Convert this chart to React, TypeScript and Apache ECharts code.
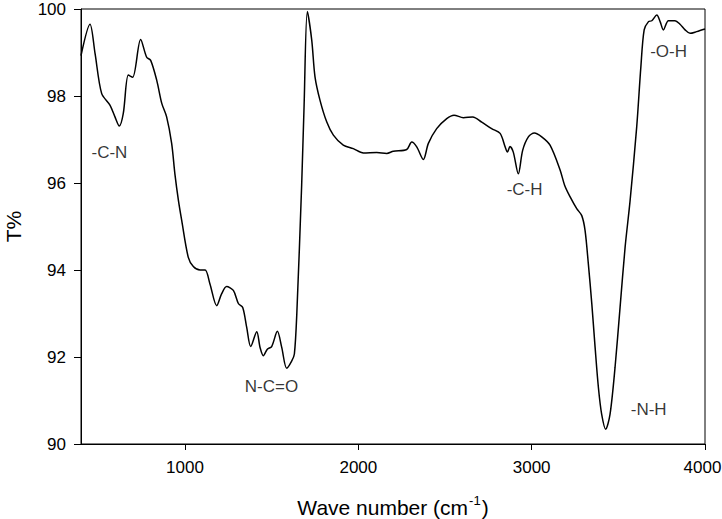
import React, { useEffect, useRef } from "react";
import * as echarts from "echarts";

const waveNumbers = [
  400, 452, 481, 519, 567, 596, 621, 644, 673, 698, 744, 779, 802, 837, 866, 894, 923, 942, 962, 981,
  1019, 1048, 1087, 1116, 1144, 1183, 1211, 1240, 1279, 1308, 1333, 1356, 1379, 1414, 1433, 1452, 1475,
  1500, 1533, 1558, 1587, 1616, 1631, 1645, 1673, 1687, 1706, 1731, 1750, 1779, 1818, 1856, 1913, 1971,
  2029, 2106, 2164, 2202, 2279, 2308, 2337, 2375, 2404, 2452, 2510, 2552, 2606, 2660, 2712, 2769, 2818,
  2847, 2860, 2875, 2894, 2923, 2948, 2981, 3016, 3058, 3106, 3164, 3190, 3222, 3260, 3289, 3308, 3327,
  3347, 3366, 3385, 3404, 3427, 3452, 3481, 3510, 3539, 3568, 3606, 3630, 3649, 3674, 3693, 3722, 3741,
  3760, 3789, 3827, 3856, 3885, 3914, 3952, 4000,
];

const transmittance = [
  98.93, 99.65, 98.98, 98.06, 97.79, 97.52, 97.31, 97.6, 98.48, 98.43, 99.3, 98.89, 98.82, 98.36, 97.83,
  97.52, 96.91, 96.2, 95.6, 95.14, 94.29, 94.08, 94.0, 94.0, 93.68, 93.18, 93.45, 93.62, 93.53, 93.23,
  93.14, 92.68, 92.24, 92.58, 92.22, 92.03, 92.18, 92.24, 92.59, 92.22, 91.74, 91.91, 92.07, 92.99,
  95.95, 97.77, 99.94, 99.29, 98.44, 97.9, 97.4, 97.1, 96.87, 96.79, 96.69, 96.7, 96.68, 96.73, 96.77,
  96.94, 96.83, 96.54, 96.91, 97.25, 97.48, 97.56, 97.5, 97.52, 97.4, 97.25, 97.14, 96.83, 96.71, 96.84,
  96.71, 96.21, 96.75, 97.06, 97.15, 97.06, 96.87, 96.3, 95.95, 95.68, 95.41, 95.25, 94.91, 94.14, 93.22,
  92.22, 91.3, 90.68, 90.34, 90.68, 91.76, 93.14, 94.52, 95.6, 97.29, 98.67, 99.52, 99.71, 99.73, 99.86,
  99.71, 99.52, 99.73, 99.73, 99.65, 99.52, 99.44, 99.48, 99.54,
];

const xTicks = [1000, 2000, 3000, 4000];

const annotationTexts = ["-C-N", "N-C=O", "-C-H", "-O-H", "-N-H"];
const annotationX = [567, 1502, 2962, 3793, 3678];
const annotationY = [96.7, 91.32, 95.85, 99.02, 90.79];

const FONT = "Liberation Sans, Arial, Helvetica, sans-serif";

export default function App() {
  const ref = useRef<HTMLDivElement>(null);

  useEffect(() => {
    if (!ref.current) return;
    const chart = echarts.init(ref.current, null, { renderer: "svg" });
    const lineData = waveNumbers.map((w, i) => [w, transmittance[i]]);
    const annData = annotationTexts.map((t, i) => ({ value: [annotationX[i], annotationY[i]], name: t }));

    chart.setOption({
      animation: false,
      backgroundColor: "#ffffff",
      textStyle: { fontFamily: FONT, color: "#000" },
      grid: {
        left: 81,
        right: 17,
        top: 9,
        bottom: 75,
        show: true,
        borderColor: "#000",
        borderWidth: 1,
        backgroundColor: "transparent",
        containLabel: false,
        outerBoundsMode: "none",
      },
      xAxis: {
        type: "value",
        min: 400,
        max: 4000,
        splitLine: { show: false },
        axisLine: { show: true, onZero: false, lineStyle: { color: "#000", width: 1 } },
        axisTick: {
          show: true,
          inside: false,
          length: 6,
          customValues: xTicks,
          lineStyle: { color: "#000", width: 1 },
        },
        axisLabel: {
          customValues: xTicks,
          color: "#000",
          fontSize: 17,
          fontFamily: FONT,
          margin: 15,
          showMinLabel: true,
          showMaxLabel: true,
          hideOverlap: false,
          overflow: "none",
          formatter: (v: number) => (v === 4000 ? "{e|" + v + "}" : String(v)),
          rich: {
            e: { fontSize: 17, fontFamily: FONT, color: "#000", padding: [0, 5, 0, 0] },
          },
        },
        name: "{a|Wave number (cm}{s|-1}{a|)}",
        nameLocation: "middle",
        nameGap: 50,
        nameTextStyle: {
          rich: {
            a: { fontSize: 21, fontFamily: FONT, color: "#000", lineHeight: 24, verticalAlign: "bottom" },
            s: { fontSize: 13, fontFamily: FONT, color: "#000", lineHeight: 14, verticalAlign: "top", padding: [0, 1, 0, 1] },
          },
        },
      },
      yAxis: {
        type: "value",
        min: 90,
        max: 100,
        interval: 2,
        splitLine: { show: false },
        axisLine: { show: true, lineStyle: { color: "#000", width: 1 } },
        axisTick: { show: true, inside: false, length: 7, lineStyle: { color: "#000", width: 1 } },
        axisLabel: { color: "#000", fontSize: 17, fontFamily: FONT, margin: 15, formatter: (v: number) => String(v) },
        name: "T%",
        nameLocation: "middle",
        nameGap: 57,
        nameTextStyle: { fontSize: 21, fontFamily: FONT, color: "#000" },
      },
      series: [
        {
          type: "line",
          data: lineData,
          showSymbol: false,
          symbol: "none",
          smooth: 0.3,
          lineStyle: { color: "#000", width: 1.5 },
          z: 3,
        },
        {
          type: "scatter",
          data: annData,
          symbol: "circle",
          symbolSize: 1,
          itemStyle: { color: "rgba(0,0,0,0)" },
          label: {
            show: true,
            position: [0, 0],
            align: "center",
            verticalAlign: "middle",
            formatter: (p: any) => p.name,
            color: "#000",
            fontSize: 17,
            fontFamily: FONT,
          },
          z: 4,
        },
      ],
    });
    return () => chart.dispose();
  }, []);

  return (
    <div
      ref={ref}
      style={{ position: "fixed", left: 0, top: 0, width: 722, height: 519, background: "#fff" }}
    />
  );
}
